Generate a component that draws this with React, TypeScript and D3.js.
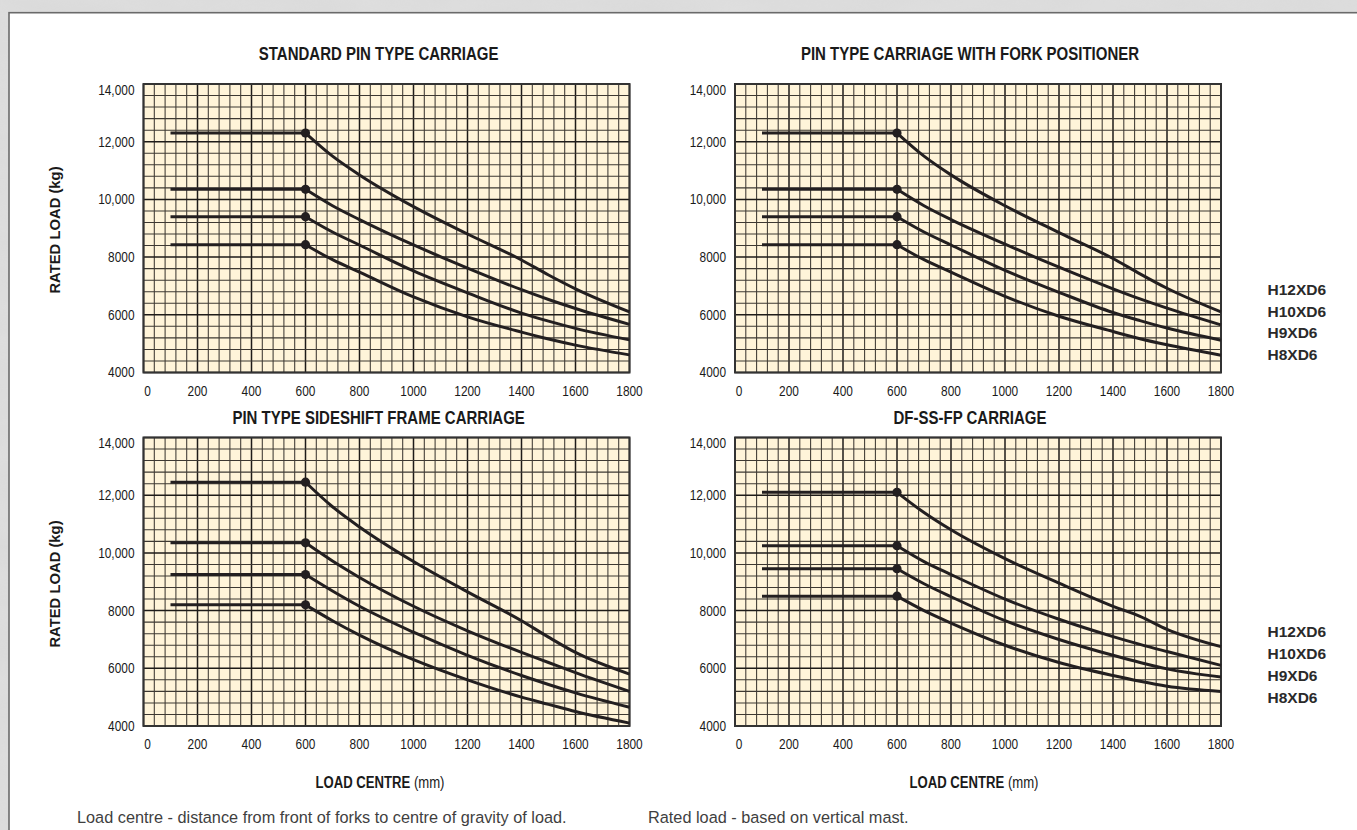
import React from 'react';
import * as d3 from 'd3';

// ---- data ----
const loadCentres = [600, 700, 800, 1000, 1200, 1400, 1500, 1600, 1800];
const flatStart = 100;
const models = ['H12XD6', 'H10XD6', 'H9XD6', 'H8XD6'];
const xTicks = [0, 200, 400, 600, 800, 1000, 1200, 1400, 1600, 1800];
const yTicks = [4000, 6000, 8000, 10000, 12000, 14000];
const yTickLabels = ['4000', '6000', '8000', '10,000', '12,000', '14,000'];
const chartTitles = [
  'STANDARD PIN TYPE CARRIAGE',
  'PIN TYPE CARRIAGE WITH FORK POSITIONER',
  'PIN TYPE SIDESHIFT FRAME CARRIAGE',
  'DF-SS-FP CARRIAGE',
];
const standardPinLoads = [
  [12300, 11500, 10850, 9750, 8800, 7900, 7380, 6900, 6100],
  [10350, 9780, 9300, 8420, 7620, 6870, 6530, 6220, 5670],
  [9400, 8870, 8420, 7520, 6760, 6060, 5780, 5530, 5130],
  [8430, 7910, 7480, 6620, 5930, 5400, 5160, 4950, 4610],
];
const forkPositionerLoads = [
  [12300, 11500, 10850, 9780, 8850, 7950, 7420, 6920, 6100],
  [10350, 9780, 9300, 8450, 7650, 6900, 6550, 6230, 5650],
  [9400, 8870, 8420, 7540, 6780, 6080, 5800, 5540, 5120],
  [8430, 7910, 7480, 6640, 5950, 5420, 5170, 4960, 4600],
];
const sideshiftFrameLoads = [
  [12450, 11600, 10900, 9700, 8650, 7650, 7080, 6550, 5800],
  [10350, 9720, 9150, 8150, 7300, 6550, 6200, 5850, 5200],
  [9250, 8680, 8150, 7250, 6450, 5750, 5440, 5150, 4650],
  [8200, 7650, 7150, 6300, 5600, 5000, 4750, 4500, 4100],
];
const dfSsFpLoads = [
  [12100, 11400, 10800, 9800, 8950, 8150, 7800, 7350, 6750],
  [10250, 9700, 9250, 8400, 7700, 7100, 6830, 6580, 6100],
  [9450, 8930, 8480, 7650, 7000, 6450, 6200, 5980, 5700],
  [8500, 8000, 7570, 6800, 6200, 5750, 5550, 5380, 5200],
];
const footnoteLeft = 'Load centre - distance from front of forks to centre of gravity of load.';
const footnoteRight = 'Rated load - based on vertical mast.';

// ---- layout ----
const W = 1357;
const H = 830;
const PW = 486;
const PH = 288.5;
const panels = [
  { left: 143.5, top: 84, data: standardPinLoads, title: chartTitles[0], tx: 378.6, ty: 54 },
  { left: 735, top: 84, data: forkPositionerLoads, title: chartTitles[1], tx: 970, ty: 54 },
  { left: 143.5, top: 437.5, data: sideshiftFrameLoads, title: chartTitles[2], tx: 378.6, ty: 418 },
  { left: 735, top: 437.5, data: dfSsFpLoads, title: chartTitles[3], tx: 970, ty: 418 },
];
const SANS = "'Liberation Sans', Arial, Helvetica, sans-serif";
const INK = '#231f20';
const NARROW_X = 0.82;

function NText(props: {
  x: number;
  y: number;
  size: number;
  anchor?: string;
  bold?: boolean;
  fill?: string;
  children: React.ReactNode;
}) {
  return (
    <text
      transform={`translate(${props.x},${props.y}) scale(${NARROW_X},1)`}
      textAnchor={props.anchor || 'middle'}
      dominantBaseline="central"
      fontFamily={SANS}
      fontWeight={props.bold ? 'bold' : 'normal'}
      fontSize={props.size}
      fill={props.fill || '#1a1a1a'}
    >
      {props.children}
    </text>
  );
}

function Panel({ p }: { p: typeof panels[number] }) {
  const x = d3.scaleLinear().domain([0, 1800]).range([p.left, p.left + PW]);
  const y = d3.scaleLinear().domain([4000, 14000]).range([p.top + PH, p.top]);
  const minorX = d3.range(0, 1801, 40);
  const minorY = d3.range(4000, 14001, 400);
  const line = d3
    .line<[number, number]>()
    .x((d) => x(d[0]))
    .y((d) => y(d[1]))
    .curve(d3.curveMonotoneX);
  return (
    <g>
      <rect x={p.left} y={p.top} width={PW} height={PH} fill="#fff4d9" />
      {minorX.map((v, i) => (
        <line
          key={'vx' + i}
          x1={x(v)}
          x2={x(v)}
          y1={p.top}
          y2={p.top + PH}
          stroke={i % 5 === 0 ? '#1e1b18' : '#3d3832'}
          strokeWidth={i % 5 === 0 ? 1.5 : 1.05}
        />
      ))}
      {minorY.map((v, i) => (
        <line
          key={'hy' + i}
          x1={p.left}
          x2={p.left + PW}
          y1={y(v)}
          y2={y(v)}
          stroke={i % 5 === 0 ? '#1e1b18' : '#3d3832'}
          strokeWidth={i % 5 === 0 ? 1.5 : 1.05}
        />
      ))}
      <rect x={p.left} y={p.top} width={PW} height={PH} fill="none" stroke="#333" strokeWidth={2} />
      {p.data.map((vals, k) => {
        const pts: [number, number][] = loadCentres.map((lc, i) => [lc, vals[i]]);
        return (
          <g key={'s' + k}>
            <line
              x1={x(flatStart)}
              x2={x(loadCentres[0])}
              y1={y(vals[0])}
              y2={y(vals[0])}
              stroke={INK}
              strokeWidth={3}
            />
            <path d={line(pts) || ''} fill="none" stroke={INK} strokeWidth={3} />
            <circle cx={x(loadCentres[0])} cy={y(vals[0])} r={4.6} fill={INK} />
          </g>
        );
      })}
      {yTicks.map((t, i) => (
        <NText key={'yt' + i} x={p.left - 9} y={y(t) + (t === 14000 ? 6 : 0)} size={14.5} anchor="end">
          {yTickLabels[i]}
        </NText>
      ))}
      {xTicks.map((t, i) => (
        <NText key={'xt' + i} x={x(t) + (t === 0 ? 4 : 0)} y={p.top + PH + 18.5} size={14.5}>
          {t}
        </NText>
      ))}
      <NText x={p.tx} y={p.ty} size={18.3} bold>
        {p.title}
      </NText>
    </g>
  );
}

export default function App() {
  const legendTop = [289.5, 311, 332.5, 354];
  const legendBottom = [631.5, 653, 675, 697];
  return (
    <svg
      width={W}
      height={H}
      viewBox={`0 0 ${W} ${H}`}
      style={{ position: 'absolute', left: 0, top: 0, display: 'block' }}
    >
      <defs>
        <filter id="marble" x="0" y="0" width="100%" height="100%">
          <feTurbulence type="fractalNoise" baseFrequency="0.012 0.03" numOctaves={4} seed={3} />
          <feColorMatrix
            type="matrix"
            values="0 0 0 0 0.80  0 0 0 0 0.80  0 0 0 0 0.80  0.33 0.33 0.33 0 -0.2"
          />
        </filter>
      </defs>
      <rect x={0} y={0} width={W} height={H} fill="#dadada" />
      <rect x={0} y={0} width={W} height={H} filter="url(#marble)" opacity={0.6} />
      <rect x={9} y={12.7} width={W + 20} height={H + 20} fill="#ffffff" stroke="#6a6a6a" strokeWidth={1.6} />
      {panels.map((p, i) => (
        <Panel key={i} p={p} />
      ))}
      {[230, 584].map((cy, i) => (
        <text
          key={'yl' + i}
          transform={`translate(55,${cy}) rotate(-90)`}
          textAnchor="middle"
          dominantBaseline="central"
          fontFamily={SANS}
          fontWeight="bold"
          fontSize={14.8}
          fill="#1a1a1a"
        >
          RATED LOAD (kg)
        </text>
      ))}
      {[380, 974].map((cx, i) => (
        <NText key={'xl' + i} x={cx} y={783} size={16}>
          <tspan fontWeight="bold">LOAD CENTRE </tspan>
          <tspan>(mm)</tspan>
        </NText>
      ))}
      {models.map((m, i) => (
        <text
          key={'lt' + i}
          x={1267.5}
          y={legendTop[i]}
          dominantBaseline="central"
          fontFamily={SANS}
          fontWeight="bold"
          fontSize={15.5}
          fill="#2a2a2a"
        >
          {m}
        </text>
      ))}
      {models.map((m, i) => (
        <text
          key={'lb' + i}
          x={1267.5}
          y={legendBottom[i]}
          dominantBaseline="central"
          fontFamily={SANS}
          fontWeight="bold"
          fontSize={15.5}
          fill="#2a2a2a"
        >
          {m}
        </text>
      ))}
      <text x={77} y={817} dominantBaseline="central" fontFamily={SANS} fontSize={16.3} fill="#3f3f3f">
        {footnoteLeft}
      </text>
      <text x={648} y={817} dominantBaseline="central" fontFamily={SANS} fontSize={16.3} fill="#3f3f3f">
        {footnoteRight}
      </text>
    </svg>
  );
}
